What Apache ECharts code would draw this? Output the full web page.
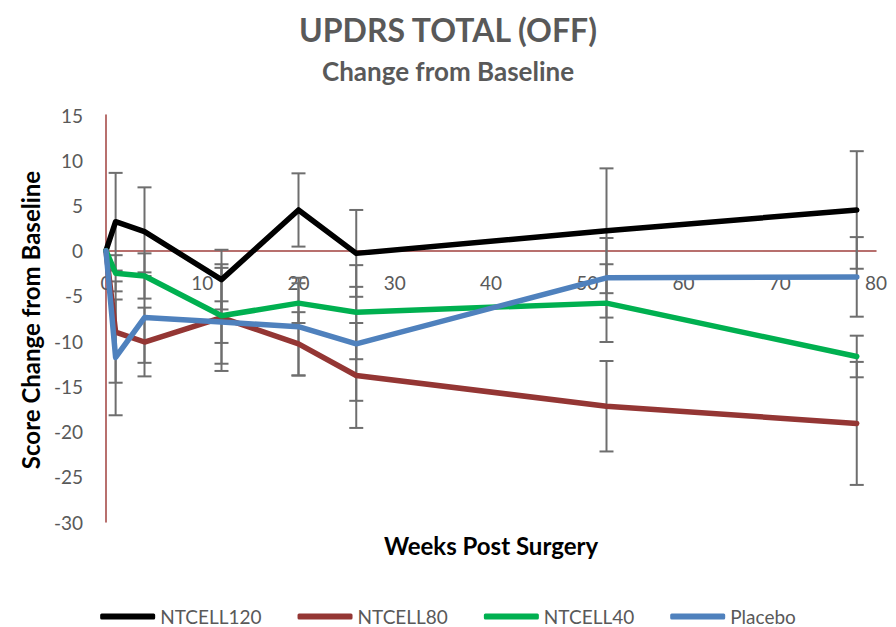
<!DOCTYPE html>
<html>
<head>
<meta charset="utf-8">
<script src="https://cdn.jsdelivr.net/npm/echarts@6/dist/echarts.min.js"></script>
<style>
  html, body { margin: 0; padding: 0; background: #fff; }
  #chart { width: 896px; height: 627px; }
</style>
</head>
<body>
<div id="chart"></div>
<script>
// weeks post surgery
const weeks = [0, 1, 4, 12, 20, 26, 52, 78]

// mean change from baseline
const ntcell120 = [0, 3.2, 2.1, -3.2, 4.5, -0.3, 2.2, 4.5]
const ntcell80 = [0, -9.0, -10.1, -7.4, -10.3, -13.8, -17.2, -19.1]
const ntcell40 = [0, -2.5, -2.8, -7.2, -5.8, -6.8, -5.8, -11.7]
const placebo = [0, -11.8, -7.4, -7.9, -8.4, -10.3, -3.0, -2.9]

// error bar half-widths
const err120 = [0, 5.4, 4.9, 3.3, 4.05, 4.8, 6.9, 6.5]
const err80 = [0, 5.6, 3.8, 5.9, 3.5, 5.8, 5.0, 6.8]
const err40 = [0, 2.0, 2.5, 5.3, 2.2, 5.2, 4.3, 2.3]
const errPlacebo = [0, 6.4, 5.0, 2.3, 5.4, 6.3, 4.4, 4.4]

const seriesNames = ['NTCELL120', 'NTCELL80', 'NTCELL40', 'Placebo']
const seriesColors = ['#000000', '#943634', '#00b050', '#4f81bd']
const seriesValues = [ntcell120, ntcell80, ntcell40, placebo]
const seriesErrors = [err120, err80, err40, errPlacebo]

const grey = '#595959'
const axisRed = '#a0403e'
const font = 'Lato, "Open Sans", sans-serif'

const yMin = -30
const yMax = 15
const gridTop = 115
const gridBottom = 105
const plotH = 627 - gridTop - gridBottom
// x axis sits on y = 0, so shift it up from the bottom of the grid
const xAxisOffset = -plotH * (0 - yMin) / (yMax - yMin)

// [week, low, high] for every error bar
const errData = []
seriesValues.forEach((vals, s) => {
  vals.forEach((v, i) => {
    const e = seriesErrors[s][i]
    if (e > 0) errData.push([weeks[i], v - e, v + e])
  })
})

function renderErr(params, api) {
  const x = api.value(0)
  const top = api.coord([x, api.value(2)])
  const bot = api.coord([x, api.value(1)])
  const w = 7
  const style = { stroke: '#6e6e6e', lineWidth: 2 }
  return {
    type: 'group',
    children: [
      { type: 'line', shape: { x1: top[0], y1: top[1], x2: bot[0], y2: bot[1] }, style },
      { type: 'line', shape: { x1: top[0] - w, y1: top[1], x2: top[0] + w, y2: top[1] }, style },
      { type: 'line', shape: { x1: bot[0] - w, y1: bot[1], x2: bot[0] + w, y2: bot[1] }, style }
    ]
  }
}

const chart = echarts.init(document.getElementById('chart'), null, { renderer: 'svg' })

chart.setOption({
  animation: false,
  textStyle: { fontFamily: font },
  title: [
    {
      text: 'UPDRS TOTAL (OFF)',
      left: 'center',
      top: 8,
      textStyle: { fontSize: 32, fontWeight: 'bold', color: grey, fontFamily: font }
    },
    {
      text: 'Change from Baseline',
      left: 'center',
      top: 53,
      textStyle: { fontSize: 26, fontWeight: 'bold', color: grey, fontFamily: font }
    }
  ],
  graphic: [
    {
      type: 'text',
      x: 30,
      y: 320,
      rotation: Math.PI / 2,
      style: {
        text: 'Score Change from Baseline',
        font: 'bold 24px ' + font,
        fill: '#000',
        textAlign: 'center',
        textVerticalAlign: 'middle'
      }
    },
    {
      type: 'text',
      x: 491,
      y: 545,
      style: {
        text: 'Weeks Post Surgery',
        font: 'bold 24px ' + font,
        fill: '#000',
        textAlign: 'center',
        textVerticalAlign: 'middle'
      }
    }
  ],
  legend: {
    data: seriesNames,
    top: 602,
    left: 'center',
    icon: 'roundRect',
    itemWidth: 55,
    itemHeight: 6,
    itemGap: 36,
    textStyle: { fontSize: 19, color: grey, fontFamily: font }
  },
  grid: { left: 106, right: 20, top: gridTop, bottom: gridBottom },
  xAxis: {
    type: 'value',
    min: 0,
    max: 80,
    interval: 10,
    offset: xAxisOffset,
    axisLine: { show: true, onZero: false, lineStyle: { color: axisRed, width: 1.5 } },
    axisTick: { show: false },
    splitLine: { show: false },
    axisLabel: { color: grey, fontSize: 19, margin: 22, fontFamily: font }
  },
  yAxis: {
    type: 'value',
    min: yMin,
    max: yMax,
    interval: 5,
    axisLine: { show: true, onZero: false, lineStyle: { color: axisRed, width: 1.5 } },
    axisTick: { show: false },
    splitLine: { show: false },
    axisLabel: { color: grey, fontSize: 19, margin: 23, fontFamily: font }
  },
  series: [
    {
      type: 'custom',
      name: 'err',
      renderItem: renderErr,
      data: errData,
      encode: { x: 0, y: [1, 2] },
      z: 1,
      silent: true
    },
    ...seriesNames.map((name, s) => ({
      name,
      type: 'line',
      data: weeks.map((w, i) => [w, seriesValues[s][i]]),
      symbol: 'none',
      color: seriesColors[s],
      lineStyle: { width: 5.5, color: seriesColors[s], cap: 'round', join: 'round' },
      z: 2
    }))
  ]
})
</script>
</body>
</html>
